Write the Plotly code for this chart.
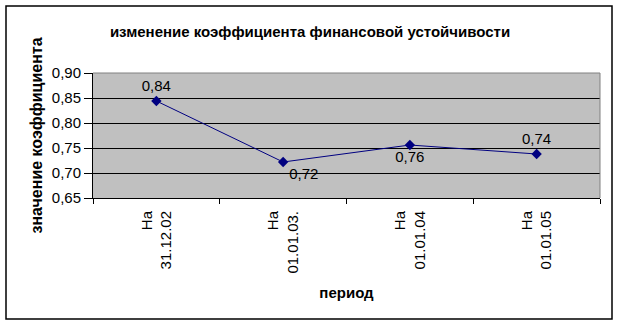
import plotly.graph_objects as go

categories = ["На<br>31.12.02", "На<br>01.01.03.", "На<br>01.01.04", "На<br>01.01.05"]
values = [0.844, 0.722, 0.756, 0.738]
label_positions = ["top center", "bottom right", "bottom center", "top center"]

FONT = "Liberation Sans, Arial, sans-serif"

fig = go.Figure()
fig.add_trace(go.Scatter(
    x=categories, y=values,
    mode="lines+markers+text",
    line=dict(color="#000080", width=1),
    marker=dict(symbol="diamond", size=8, color="#000080"),
    texttemplate="%{y:.2f}",
    textposition=label_positions,
    textfont=dict(family=FONT, size=15, color="black"),
    cliponaxis=False,
    hoverinfo="skip",
))

L, R, T, B = 93, 20, 73, 128
W, H = 620, 326
pw, ph = W - L - R, H - T - B

def px(x):
    return (x - L) / pw

def py(y):
    return (H - B - y) / ph

fig.update_layout(
    width=W, height=H,
    margin=dict(l=L, r=R, t=T, b=B, pad=0),
    paper_bgcolor="white",
    plot_bgcolor="#c0c0c0",
    separators=", ",
    showlegend=False,
    font=dict(family=FONT, size=15, color="black"),
    title=dict(
        text="<b>изменение коэффициента финансовой устойчивости</b>",
        font=dict(family=FONT, size=15, color="black"),
        x=310 / W, xref="container", xanchor="center",
        y=1 - 32 / H, yref="container", yanchor="middle",
    ),
    xaxis=dict(
        type="category",
        tickangle=-90,
        tickson="boundaries",
        ticks="outside", ticklen=5, tickcolor="black",
        ticklabelstandoff=6,
        showline=True, linecolor="black", linewidth=1,
        showgrid=False, zeroline=False,
        tickfont=dict(family=FONT, size=15),
        title=dict(text="<b>период</b>", font=dict(family=FONT, size=15), standoff=14),
        range=[-0.5, 3.5],
    ),
    yaxis=dict(
        range=[0.65, 0.90], dtick=0.05, tick0=0.65,
        tickformat=".2f",
        ticks="outside", ticklen=8, tickcolor="black",
        showline=True, linecolor="black", linewidth=1,
        showgrid=True, gridcolor="black", gridwidth=1,
        zeroline=False,
        tickfont=dict(family=FONT, size=15),
        title=dict(text="<b>значение коэффициента</b>", font=dict(family=FONT, size=16), standoff=5),
    ),
    shapes=[
        dict(type="line", xref="paper", yref="paper", x0=0, x1=1, y0=1, y1=1,
             line=dict(color="#808080", width=1)),
        dict(type="line", xref="paper", yref="paper", x0=1, x1=1, y0=0, y1=1,
             line=dict(color="#808080", width=1)),
        dict(type="rect", xref="paper", yref="paper",
             x0=px(6), x1=px(612), y0=py(319), y1=py(6),
             line=dict(color="black", width=1.5), fillcolor="rgba(0,0,0,0)", layer="below"),
    ],
)

fig.write_html("out.html")
